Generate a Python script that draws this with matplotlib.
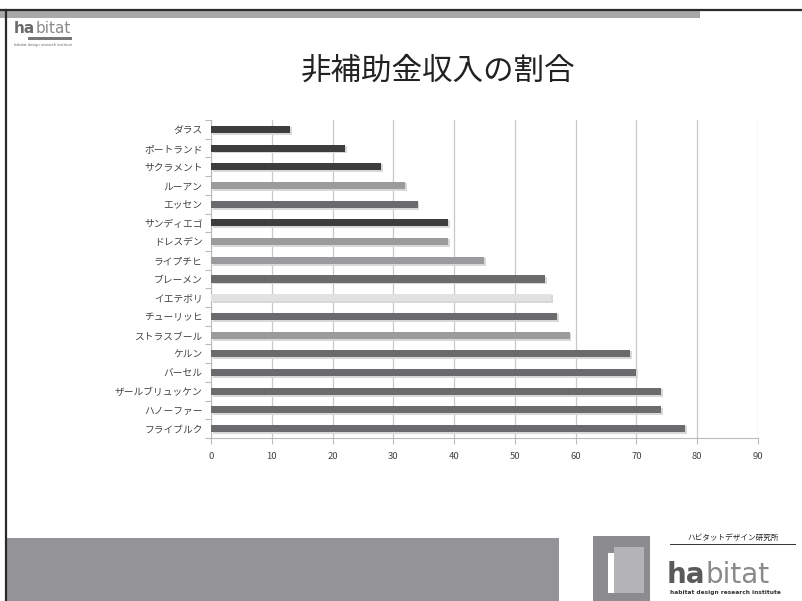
import numpy as np
from matplotlib import pyplot as plt
from matplotlib.patches import Rectangle

plt.rcParams['font.family'] = ['Noto Sans CJK JP', 'DejaVu Sans']

# data (top to bottom as shown)
cities = ['ダラス', 'ポートランド', 'サクラメント', 'ルーアン', 'エッセン', 'サンディエゴ',
          'ドレスデン', 'ライプチヒ', 'ブレーメン', 'イエテボリ', 'チューリッヒ',
          'ストラスブール', 'ケルン', 'バーセル', 'ザールブリュッケン', 'ハノーファー',
          'フライブルク']
shares = [13, 22, 28, 32, 34, 39, 39, 45, 55, 56, 57, 59, 69, 70, 74, 74, 78]
shades = ['dark', 'dark', 'dark', 'light', 'mid', 'dark', 'light', 'light', 'mid',
          'pale', 'mid', 'light', 'mid', 'mid', 'mid', 'mid', 'mid']
xticks = [0, 10, 20, 30, 40, 50, 60, 70, 80, 90]

shade_colors = {'dark': '#3d3d3d', 'mid': '#6b6b6d', 'light': '#9b9b9d', 'pale': '#e2e2e4'}

fig = plt.figure()
fig.set_size_inches(8.03, 6.01)
fig.patch.set_facecolor('white')

# slide decoration
fig.add_artist(Rectangle((0, 1 - 18/601), 700/803, 7/601, transform=fig.transFigure, color='#a8a8a8', lw=0))
fig.add_artist(plt.Line2D([0, 1], [1 - 10/601, 1 - 10/601], color='#2a2a2a', lw=1.6, transform=fig.transFigure))
fig.add_artist(plt.Line2D([6/803, 6/803], [0, 1 - 10/601], color='#2a2a2a', lw=1.6, transform=fig.transFigure))
fig.add_artist(Rectangle((7/803, 0), 552/803, 63/601, transform=fig.transFigure, color='#949498', lw=0))

ax = fig.add_axes([211/803, 1 - 438/601, 547/803, 318/601])

# small logo top-left
ha1 = fig.text(14/803, 1 - 33/601, 'ha', fontsize=11, fontweight='bold', color='#6a6a6a', family='DejaVu Sans')
ax.annotate('bitat', xy=(1, 0), xycoords=ha1, va='bottom', fontsize=11, color='#8a8a8a',
            family='DejaVu Sans', annotation_clip=False)
fig.add_artist(Rectangle((28/803, 1 - 40/601), 44/803, 3/601, transform=fig.transFigure, color='#777777', lw=0))
fig.text(14/803, 1 - 46/601, 'habitat design research institute', fontsize=2.5, color='#666666', family='DejaVu Sans')

# big logo bottom-right
fig.add_artist(Rectangle((593/803, 0), 57/803, 65/601, transform=fig.transFigure, color='#8c8c8e', lw=0))
fig.add_artist(Rectangle((608/803, 8/601), 30/803, 40/601, transform=fig.transFigure, color='white', lw=0))
fig.add_artist(Rectangle((614/803, 8/601), 30/803, 46/601, transform=fig.transFigure, color='#b4b4b6', lw=0))
ha2 = fig.text(667/803, 1 - 583/601, 'ha', fontsize=20, fontweight='bold', color='#5a5a5c', family='DejaVu Sans')
ax.annotate('bitat', xy=(1, 0), xycoords=ha2, va='bottom', fontsize=20, color='#8a8a8c',
            family='DejaVu Sans', annotation_clip=False)
fig.text(733/803, 1 - 540/601, 'ハビタットデザイン研究所', fontsize=5.5, color='#222222', style='italic', ha='center')
fig.add_artist(plt.Line2D([670/803, 795/803], [1 - 544/601, 1 - 544/601], color='#333333', lw=0.7, transform=fig.transFigure))
fig.text(670/803, 1 - 594/601, 'habitat design research institute', fontsize=4.2, color='#333333', family='DejaVu Sans', fontweight='bold')

# title
fig.text(438/803, 1 - 71/601, '非補助金収入の割合', fontsize=22, color='#222222', ha='center', va='center')

y = np.arange(len(cities))
cols = [shade_colors[s] for s in shades]
# soft shadow
ax.barh(y + 0.08, shares, height=0.42, color='#d8d8d8', zorder=2, left=0.3)
ax.barh(y, shares, height=0.38, color=cols, zorder=3)

ax.set_ylim(len(cities) - 0.5, -0.5)
ax.set_xlim(0, 90)
ax.set_xticks(xticks)
ax.set_xticklabels([str(t) for t in xticks], fontsize=6.8, color='#444444')
ax.set_yticks(y)
ax.set_yticklabels(cities, fontsize=7, color='#444444')
ax.set_yticks(np.arange(len(cities) + 1) - 0.5, minor=True)
ax.tick_params(axis='y', which='major', length=0, pad=6)
ax.tick_params(axis='y', which='minor', length=4, color='#bbbbbb', width=0.8)
ax.tick_params(axis='x', length=4, color='#bbbbbb', width=0.8, pad=6)
ax.grid(True, axis='x', color='#c8c8c8', lw=0.9, zorder=0)
for s in ['top', 'right']:
    ax.spines[s].set_visible(False)
ax.spines['left'].set_color('#bbbbbb')
ax.spines['bottom'].set_color('#bbbbbb')

fig.savefig('out.png', dpi=100)
